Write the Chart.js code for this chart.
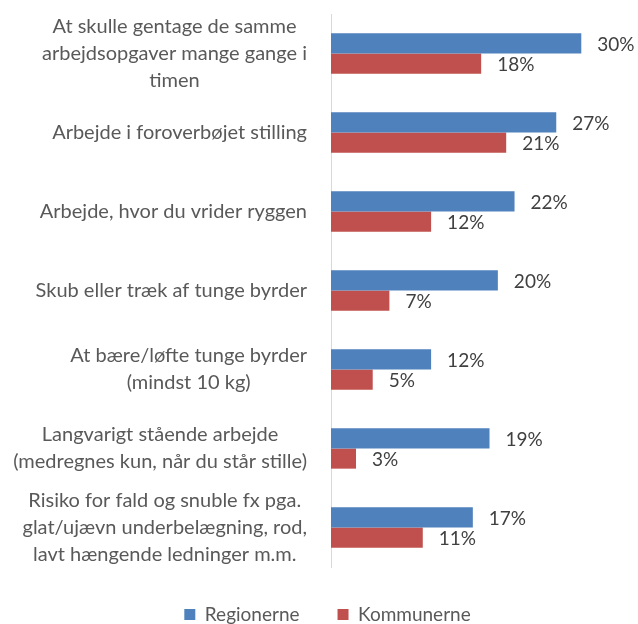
<!DOCTYPE html>
<html>
<head>
<meta charset="utf-8">
<script src="https://cdn.jsdelivr.net/npm/chart.js@4"></script>
<style>
  html, body { margin: 0; padding: 0; background: #ffffff; }
  #wrap { width: 638px; height: 624px; position: relative; }
</style>
</head>
<body>
<div id="wrap"><canvas id="chart"></canvas></div>
<script>
// category labels (one array of lines per category)
const categories = [
  ["At skulle gentage de samme", "arbejdsopgaver mange gange i", "timen"],
  ["Arbejde i foroverbøjet stilling"],
  ["Arbejde, hvor du vrider ryggen"],
  ["Skub eller træk af tunge byrder"],
  ["At bære/løfte tunge byrder", "(mindst 10 kg)"],
  ["Langvarigt stående arbejde", "(medregnes kun, når du står stille)"],
  ["Risiko for fald og snuble fx pga.", "glat/ujævn underbelægning, rod,", "lavt hængende ledninger m.m."]
];
const seriesNames = ["Regionerne", "Kommunerne"];
const regionerne = [30, 27, 22, 20, 12, 19, 17];
const kommunerne = [18, 21, 12, 7, 5, 3, 11];

const FONT = "Lato, 'Noto Sans', sans-serif";
const PAD_LEFT = 32;

// y labels: each block right aligned, lines centred inside the block
const categoryLabels = {
  id: "categoryLabels",
  afterDraw(chart) {
    const ctx = chart.ctx;
    const y = chart.scales.y;
    ctx.save();
    ctx.font = "20px " + FONT;
    ctx.fillStyle = "#595959";
    ctx.textAlign = "center";
    ctx.textBaseline = "middle";
    categories.forEach((lines, i) => {
      const cy = y.getPixelForTick(i);
      const w = Math.max(...lines.map(l => ctx.measureText(l).width));
      const cx = 307 - w / 2;
      lines.forEach((line, j) => {
        ctx.fillText(line, cx, cy + (j - (lines.length - 1) / 2) * 27);
      });
    });
    ctx.restore();
  }
};

// percentage labels right of each bar
const valueLabels = {
  id: "valueLabels",
  afterDatasetsDraw(chart) {
    const ctx = chart.ctx;
    ctx.save();
    ctx.font = "19px " + FONT;
    ctx.fillStyle = "#404040";
    ctx.textAlign = "left";
    ctx.textBaseline = "middle";
    chart.data.datasets.forEach((ds, di) => {
      chart.getDatasetMeta(di).data.forEach((bar, i) => {
        ctx.fillText(ds.data[i] + "%", bar.x + 16, bar.y + 1);
      });
    });
    ctx.restore();
  }
};

new Chart(document.getElementById("chart"), {
  type: "bar",
  data: {
    labels: categories,
    datasets: [
      {
        label: seriesNames[0],
        data: regionerne,
        backgroundColor: "#4F81BD",
        categoryPercentage: 0.51,
        barPercentage: 1.0
      },
      {
        label: seriesNames[1],
        data: kommunerne,
        backgroundColor: "#C0504D",
        categoryPercentage: 0.51,
        barPercentage: 1.0
      }
    ]
  },
  options: {
    indexAxis: "y",
    responsive: true,
    maintainAspectRatio: false,
    animation: false,
    layout: { padding: { top: 14, right: 15, bottom: -10, left: PAD_LEFT } },
    scales: {
      x: {
        display: false,
        min: 0,
        max: 35
      },
      y: {
        grid: { display: false },
        border: { display: true, color: "#d9d9d9", width: 1 },
        ticks: { display: false },
        afterFit(scale) {
          scale.width = 331 - PAD_LEFT;
        }
      }
    },
    plugins: {
      legend: {
        position: "bottom",
        labels: {
          boxWidth: 11,
          boxHeight: 11,
          padding: 38,
          color: "#595959",
          font: { family: FONT, size: 19 }
        }
      },
      tooltip: { enabled: false }
    }
  },
  plugins: [categoryLabels, valueLabels]
});
</script>
</body>
</html>
